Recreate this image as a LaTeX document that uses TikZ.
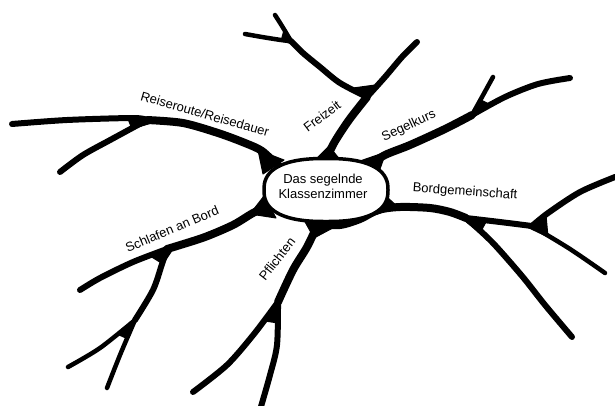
\documentclass[tikz,border=0pt]{standalone}
\usepackage{fontspec}
\setmainfont{Liberation Sans}

\tikzset{
  trunk/.style={line width=8pt, line cap=round, line join=round},
  branch/.style={line width=6pt, line cap=round, line join=round},
  twig/.style={line width=4.5pt, line cap=round, line join=round},
  web/.style={fill=black, draw=black, line width=1pt, line join=round},
  label/.style={font=\fontsize{13}{15}\selectfont, inner sep=1pt}
}

\begin{document}
\begin{tikzpicture}[x=1pt, y=-1pt]
\useasboundingbox (0,0) rectangle (615,405);

% Junctions
\coordinate (rJ) at (147,120);
\coordinate (fJ) at (367,97);
\coordinate (fJ2) at (291,41);
\coordinate (sJ) at (472,115);
\coordinate (bJ) at (466,218);
\coordinate (bJ2) at (532,226);
\coordinate (kJ) at (167,249);
\coordinate (kJ2) at (135,320);
\coordinate (pJ) at (278,302);
\coordinate (pB) at (318,224);

% Reiseroute/Reisedauer
\draw[trunk] plot[smooth] coordinates {(278,166) (262,151) (245,143) (218,133) (183,123) (rJ)};
\draw[branch] plot[smooth] coordinates {(rJ) (133,118) (67,120) (12,124)};
\draw[branch] plot[smooth] coordinates {(rJ) (112,139) (83,155) (60,172)};
\fill[web] (158,121) -- (128,119) -- (132,129) -- cycle;
\fill[web] (258,150) -- (263,174) -- (284,160) -- cycle;

% Freizeit
\draw[trunk] plot[smooth] coordinates {(324,164) (334,143) (349,120) (fJ)};
\draw[branch] plot[smooth] coordinates {(fJ) (340,83) (320,67) (303,53) (fJ2)};
\draw[branch] plot[smooth] coordinates {(fJ) (385,77) (402,57) (417,42)};
\draw[twig] plot[smooth] coordinates {(fJ2) (282,26) (275,15)};
\draw[twig] plot[smooth] coordinates {(fJ2) (281,40) (262,37) (245,34)};
\fill[web] (366,101) -- (353,88) -- (375,85) -- cycle;
\fill[web] (293,44) -- (284,30) -- (281,41) -- cycle;
\fill[web] (329,146) -- (314,161) -- (341,161) -- cycle;

% Segelkurs
\draw[trunk] plot[smooth] coordinates {(368,166) (385,155) (410,145) (445,129) (sJ)};
\draw[branch] plot[smooth] coordinates {(sJ) (505,97) (538,84) (570,78)};
\draw[twig] plot[smooth] coordinates {(sJ) (482,97) (493,77)};
\fill[web] (468,118) -- (491,105) -- (481,100) -- cycle;
\fill[web] (386,152) -- (360,161) -- (380,169) -- cycle;

% Bordgemeinschaft
\draw[trunk] plot[smooth] coordinates {(pB) (340,225) (360,219) (378,210) (400,207) (430,208) (450,212) (bJ)};
\draw[branch] plot[smooth] coordinates {(bJ) (500,222) (bJ2)};
\draw[branch] plot[smooth] coordinates {(bJ2) (548,213) (580,192) (615,177)};
\draw[twig] plot[smooth] coordinates {(bJ2) (570,249) (605,273)};
\draw[branch] plot[smooth] coordinates {(bJ) (492,242) (522,276) (545,305) (572,337)};
\fill[web] (460,217) -- (486,222) -- (480,233) -- cycle;
\fill[web] (527,227) -- (546,215) -- (548,237) -- cycle;
\fill[web] (372,216) -- (398,207) -- (388,198) -- cycle;

% Schlafen an Bord
\draw[trunk] plot[smooth] coordinates {(270,205) (253,213) (233,225) (205,237) (177,246) (kJ)};
\draw[branch] plot[smooth] coordinates {(kJ) (133,262) (100,278) (80,290)};
\draw[branch] plot[smooth] coordinates {(kJ) (162,264) (153,290) (kJ2)};
\draw[twig] plot[smooth] coordinates {(kJ2) (100,348) (68,367)};
\draw[twig] plot[smooth] coordinates {(kJ2) (120,355) (107,388)};
\fill[web] (175,246) -- (150,256) -- (163,264) -- cycle;
\fill[web] (138,316) -- (117,334) -- (128,339) -- cycle;
\fill[web] (250,214) -- (264,196) -- (276,218) -- cycle;

% Pflichten
\draw[trunk] plot[smooth] coordinates {(pB) (307,247) (293,270) (pJ)};
\draw[branch] plot[smooth] coordinates {(pJ) (254,334) (227,365) (193,392)};
\draw[branch] plot[smooth] coordinates {(pJ) (277,345) (270,375) (260,410)};
\fill[web] (282,292) -- (265,321) -- (278,323) -- cycle;
\fill[web] (304,220) -- (344,222) -- (314,238) -- cycle;

% Centre
\draw[line width=3.5pt, fill=white] plot[smooth cycle, domain=2.5:357.5, samples=72]
  ({326+62*sign(cos(\x))*abs(cos(\x))^0.8}, {190-31.5*sign(sin(\x))*abs(sin(\x))^0.8});
\node[align=center, label] (centre) at (323,186) {Das segelnde\\Klassenzimmer};

% Labels
\node[label, rotate=-16] (lReise) at (205,114) {Reiseroute/Reisedauer};
\node[label, rotate=37] (lFrei) at (322,116) {Freizeit};
\node[label, rotate=25] (lSegel) at (409,126) {Segelkurs};
\node[label, rotate=-4] (lBord) at (465,192) {Bordgemeinschaft};
\node[label, rotate=23] (lSchlaf) at (172,229) {Schlafen an Bord};
\node[label, rotate=52] (lPfl) at (277,259) {Pflichten};
\end{tikzpicture}
\end{document}
